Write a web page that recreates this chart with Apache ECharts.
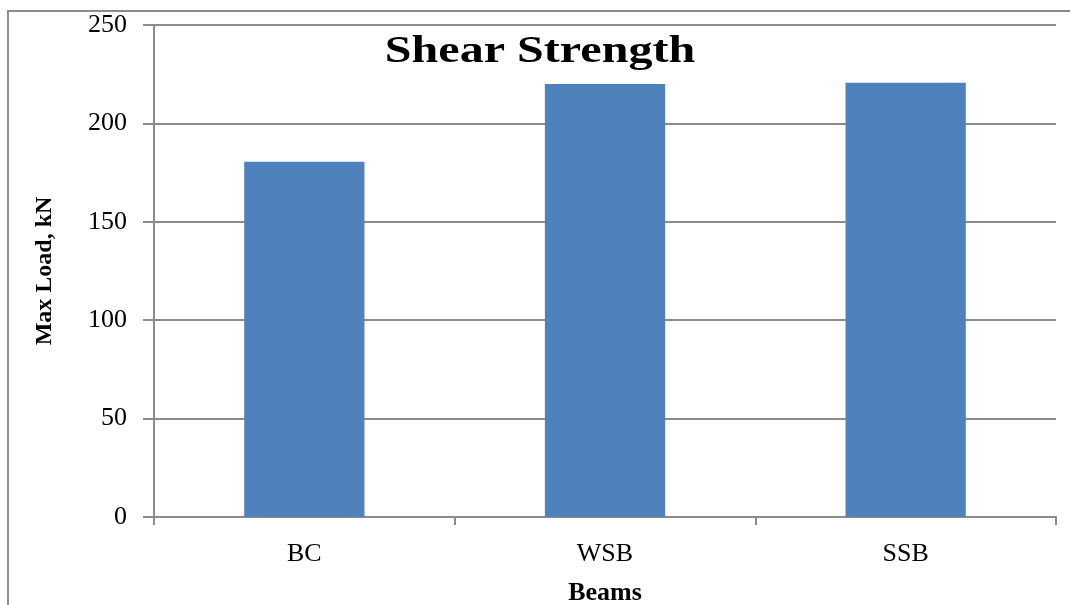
<!DOCTYPE html>
<html><head><meta charset="utf-8">
<script src="https://cdn.jsdelivr.net/npm/echarts@6/dist/echarts.min.js"></script>
<style>html,body{margin:0;padding:0;background:#fff}#c{width:1070px;height:605px}</style>
</head><body><div id="c"></div>
<script>
const categories = ['BC', 'WSB', 'SSB'];
const maxLoad = [180.5, 220, 220.6];
const titleText = 'Shear Strength';
const yName = 'Max Load, kN';
const xName = 'Beams';

const chart = echarts.init(document.getElementById('c'));
const serif = '"Liberation Serif", "DejaVu Serif", serif';
chart.setOption({
  animation: false,
  backgroundColor: '#fff',
  title: { show: false, text: titleText },
  graphic: [
    { type: 'rect', shape: { x: 8, y: 11, width: 1100, height: 700 },
      style: { fill: 'none', stroke: '#8c8c8c', lineWidth: 2 }, silent: true, z: 0 },
    { type: 'text', x: 540, y: 52, scaleX: 1.3, z: 10,
      style: { text: titleText, fontFamily: serif, fontWeight: 'bold', fontSize: 37, fill: '#000',
        align: 'center', verticalAlign: 'middle' } }
  ],
  grid: { left: 154, right: 14, top: 25, bottom: 88, outerBoundsMode: 'none', containLabel: false },
  xAxis: { type: 'category', data: categories,
    axisLine: { lineStyle: { color: '#8c8c8c', width: 2 } },
    axisTick: { show: true, length: 8, lineStyle: { color: '#8c8c8c', width: 2 } },
    axisLabel: { fontFamily: serif, fontSize: 26, color: '#000', margin: 24 },
    name: xName, nameLocation: 'middle', nameGap: 63,
    nameTextStyle: { fontFamily: serif, fontSize: 26, fontWeight: 'bold', color: '#000' } },
  yAxis: { type: 'value', min: 0, max: 250, interval: 50,
    axisLine: { show: true, lineStyle: { color: '#8c8c8c', width: 2 } },
    axisTick: { show: true, length: 11, lineStyle: { color: '#8c8c8c', width: 2 } },
    splitLine: { lineStyle: { color: '#8c8c8c', width: 2 } },
    axisLabel: { fontFamily: serif, fontSize: 26, color: '#000', margin: 27 },
    name: yName, nameLocation: 'middle', nameGap: 97, nameRotate: 90,
    nameTextStyle: { fontFamily: serif, fontSize: 24, fontWeight: 'bold', color: '#000' } },
  series: [{ type: 'bar', data: maxLoad, barCategoryGap: '60%',
    itemStyle: { color: '#4f81bd' } }]
});
</script></body></html>
